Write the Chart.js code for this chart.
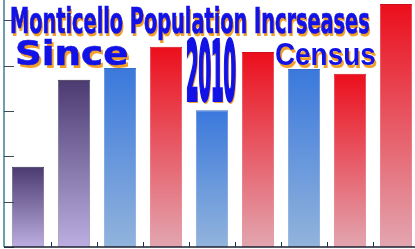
<!DOCTYPE html>
<html>
<head>
<meta charset="utf-8">
<script src="https://cdn.jsdelivr.net/npm/chart.js@4.4.1/dist/chart.umd.min.js"></script>
<style>
  html, body { margin: 0; padding: 0; background: #fff; overflow: hidden; }
  #wrap { position: relative; width: 419px; height: 249px; }
  .lbl {
    position: absolute;
    white-space: nowrap;
    color: #1212e6;
    font-family: "Liberation Sans", Arial, sans-serif;
    font-weight: bold;
    line-height: 1;
    transform-origin: 0 0;
    text-shadow: 2px 3px 0 #f2a02c;
  }
  .narrow { font-family: "Liberation Sans Narrow", "DejaVu Sans Condensed", sans-serif; }
</style>
</head>
<body>
<div id="wrap">
  <canvas id="popChart"></canvas>
  <div class="lbl narrow" data-w="360" style="left:10px; top:4px; font-size:35px; -webkit-text-stroke:0.7px #1212e6;">Monticello Population Incrseases</div>
  <div class="lbl" data-w="114" style="left:15px; top:37px; font-size:33px; font-family:'DejaVu Sans', sans-serif; -webkit-text-stroke:0.5px #1212e6;">Since</div>
  <div class="lbl" data-w="101" style="left:275px; top:38px; font-size:32px;">Census</div>
  <div class="lbl narrow" data-w="50" style="left:186px; top:31px; font-size:82px; -webkit-text-stroke:4px #1212e6; text-shadow: 4px 3px 0 #f2a02c;">2010</div>
</div>

<script>
// ── Data ──
const years = ['2010', '2011', '2012', '2013', '2014', '2015', '2016', '2017', '2018'];
const growth = [1.77, 3.69, 3.95, 4.42, 3.02, 4.30, 3.93, 3.82, 5.36];
const barColors = ['purple', 'purple', 'blue', 'red', 'blue', 'red', 'blue', 'red', 'red'];
const yTicks = [0, 1, 2, 3, 4, 5];

// gradient stops, top -> bottom
const palette = {
  purple: ['#4a3a70', '#bcaee0'],
  blue:   ['#3a78dc', '#92b4dc'],
  red:    ['#ec0e1c', '#e2a6b0']
};
const borders = { purple: '#2e2448', blue: '#3a70c8', red: '#d0101c' };

// ── Gradient per bar ──
function barGradient(ctx) {
  const chart = ctx.chart;
  if (!chart.chartArea) return null;
  const y = chart.scales.y;
  const top = y.getPixelForValue(ctx.raw);
  const bot = y.getPixelForValue(0);
  const [c1, c2] = palette[barColors[ctx.dataIndex]];
  const g = chart.ctx.createLinearGradient(0, top, 0, bot);
  g.addColorStop(0, c1);
  g.addColorStop(1, c2);
  return g;
}

// ── Axis lines + inward tick marks ──
const axisMarks = {
  id: 'axisMarks',
  afterDatasetsDraw(chart) {
    const { ctx, chartArea, scales } = chart;
    const base = scales.y.getPixelForValue(0);
    ctx.save();
    // y axis
    ctx.strokeStyle = '#3f7d94';
    ctx.lineWidth = 1.5;
    ctx.beginPath();
    ctx.moveTo(chartArea.left - 1, 0);
    ctx.lineTo(chartArea.left - 1, base);
    ctx.stroke();
    ctx.strokeStyle = '#3a4a5a';
    ctx.lineWidth = 1;
    yTicks.forEach(t => {
      const py = Math.round(scales.y.getPixelForValue(t)) + 0.5;
      ctx.beginPath();
      ctx.moveTo(chartArea.left - 1, py);
      ctx.lineTo(chartArea.left + 9, py);
      ctx.stroke();
    });
    // x axis
    ctx.strokeStyle = '#1a2030';
    ctx.lineWidth = 1.5;
    ctx.beginPath();
    ctx.moveTo(chartArea.left - 1, base);
    ctx.lineTo(chartArea.right, base);
    ctx.stroke();
    ctx.strokeStyle = '#1a3050';
    ctx.lineWidth = 1;
    for (let i = 1; i < years.length; i++) {
      const px = Math.round((scales.x.getPixelForValue(i - 1) + scales.x.getPixelForValue(i)) / 2) + 0.5;
      ctx.beginPath();
      ctx.moveTo(px, base);
      ctx.lineTo(px, base - 5);
      ctx.stroke();
    }
    ctx.restore();
  }
};

new Chart(document.getElementById('popChart'), {
  type: 'bar',
  data: {
    labels: years,
    datasets: [{
      data: growth,
      backgroundColor: barGradient,
      borderColor: ctx => borders[barColors[ctx.dataIndex]],
      borderWidth: { top: 1, left: 0.5, right: 0.5, bottom: 0 },
      barPercentage: 0.7,
      categoryPercentage: 1
    }]
  },
  options: {
    responsive: true,
    maintainAspectRatio: false,
    animation: false,
    layout: { padding: { left: 5, top: 0, right: 0, bottom: 2 } },
    plugins: { legend: { display: false }, tooltip: { enabled: false } },
    scales: {
      x: { display: false },
      y: { display: false, min: 0, max: 5.45 }
    }
  },
  plugins: [axisMarks]
});

// ── squeeze/stretch overlay text to the widths seen in the picture ──
function fitLabels() {
  document.querySelectorAll('.lbl').forEach(el => {
    const w = +el.dataset.w;
    el.style.transform = `scale(${w / el.offsetWidth}, 1)`;
  });
}
fitLabels();
document.fonts.ready.then(fitLabels);
</script>
</body>
</html>
